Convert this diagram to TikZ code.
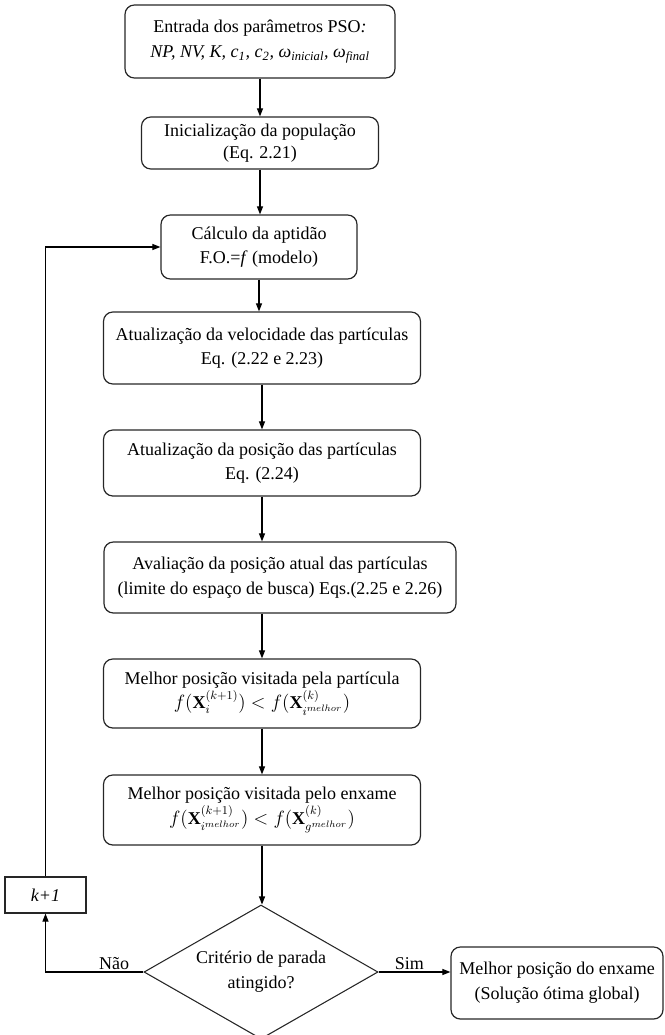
\documentclass[tikz,border=0pt]{standalone}
\usepackage{fontspec}
\setmainfont{Liberation Serif}
\usepackage{amsmath}
\usetikzlibrary{positioning,arrows.meta,shapes.geometric}
\tikzset{
  pr/.style={draw=black!85, line width=0.9pt, rounded corners=7pt, align=center, inner sep=2pt, font=\fontsize{13.5}{18.5}\selectfont},
  dc/.style={draw=black!85, line width=0.8pt, diamond, aspect=1.75, align=center, inner sep=1pt, minimum width=175.5pt, minimum height=100.5pt, font=\fontsize{13.5}{18.5}\selectfont},
  kb/.style={draw=black!85, line width=0.8pt, font=\fontsize{13.5}{18.5}\selectfont, minimum width=60.75pt, minimum height=27pt},
  lb/.style={font=\fontsize{13.5}{16}\selectfont, inner sep=1pt},
  fl/.style={-{Triangle[length=6pt,width=4.5pt]}, line width=0.8pt},
}
\begin{document}
\begin{tikzpicture}[x=0.75pt, y=-0.75pt]
\useasboundingbox (0,0) rectangle (664,1035);
\node[pr, minimum width=202.5pt, minimum height=54.75pt] (entr) at (260,41.5) {Entrada dos parâmetros PSO\textit{:}\\ \textit{NP, NV, K, c\textsubscript{1}, c\textsubscript{2}, ω\textsubscript{inicial}, ω\textsubscript{final}}};
\node[pr, minimum width=177.75pt, minimum height=39pt] (ini) at (260,143) {Inicialização da população\\[-2pt](Eq. 2.21)};
\node[pr, minimum width=147pt, minimum height=48pt] (apt) at (259,247) {Cálculo da aptidão\\F.O.=\textit{f} (modelo)};
\node[pr, minimum width=237.75pt, minimum height=54pt] (vel) at (262,348) {Atualização da velocidade das partículas\\Eq. (2.22 e 2.23)};
\node[pr, minimum width=237.75pt, minimum height=49.5pt] (pos) at (262,463) {Atualização da posição das partículas\\Eq. (2.24)};
\node[pr, minimum width=264pt, minimum height=53.25pt] (aval) at (280,577.5) {Avaliação da posição atual das partículas\\(limite do espaço de busca) Eqs.(2.25 e 2.26)};
\node[pr, minimum width=237.75pt, minimum height=51.75pt] (mpart) at (262,693.5) {Melhor posição visitada pela partícula\\$f(\mathbf{X}_i^{(k+1)}) < f(\mathbf{X}_{i^{melhor}}^{(k)})$};
\node[pr, minimum width=237.75pt, minimum height=52.5pt] (mgrp) at (262,810) {Melhor posição visitada pelo enxame\\$f(\mathbf{X}_{i^{melhor}}^{(k+1)}) < f(\mathbf{X}_{g^{melhor}}^{(k)})$};
\node[dc] (crit) at (261,972) {Critério de parada\\atingido?};
\node[kb] (kmais) at (45.5,895) {\textit{k+1}};
\node[pr, minimum width=159pt, minimum height=54pt] (fim) at (557,983) {Melhor posição do enxame\\(Solução ótima global)};
% fluxo principal
\draw[fl] (entr.south) -- (entr.south |- ini.north);
\draw[fl] (ini.south) -- (ini.south |- apt.north);
\draw[fl] (apt.south) -- (apt.south |- vel.north);
\draw[fl] (vel.south) -- (vel.south |- pos.north);
\draw[fl] (pos.south) -- (pos.south |- aval.north);
\draw[fl] (aval.south -| pos.south) -- (mpart.north);
\draw[fl] (mpart) -- (mgrp);
\draw[fl] (mgrp.south) -- (mgrp.south |- crit.north);
% laço e saída
\draw[fl] (crit.west) -- node[lb, above, pos=0.3] {Não} (crit.west -| kmais) -- (kmais);
\draw[fl] (kmais) -- (kmais |- apt) -- (apt);
\draw[fl] (crit.east) -- node[lb, above, pos=0.43] {Sim} (crit.east -| fim.west);
\end{tikzpicture}
\end{document}
